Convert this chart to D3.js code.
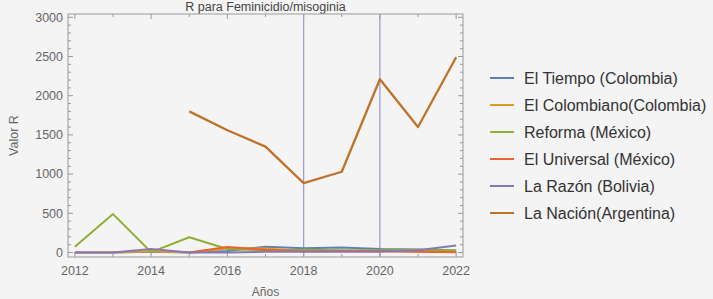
<!DOCTYPE html>
<html>
<head>
<meta charset="utf-8">
<script src="https://cdn.jsdelivr.net/npm/d3@7"></script>
<style>
  html, body { margin: 0; padding: 0; background: #f4f4f4; }
  #app { width: 713px; height: 299px; }
  text { font-family: "Liberation Sans", Arial, sans-serif; }
</style>
</head>
<body>
<div id="app"></div>
<script>
// chart data
const years = [2012, 2013, 2014, 2015, 2016, 2017, 2018, 2019, 2020, 2021, 2022];
const seriesNames = ['El Tiempo (Colombia)', 'El Colombiano(Colombia)', 'Reforma (México)',
	'El Universal (México)', 'La Razón (Bolivia)', 'La Nación(Argentina)'];
const elTiempo = [0, 0, 10, 0, 20, 75, 55, 65, 45, 40, 25];
const elColombiano = [0, 0, 15, 0, 50, 50, 20, 15, 15, 10, 15];
const reforma = [75, 490, 5, 195, 45, 30, 35, 30, 30, 35, 25];
const elUniversal = [null, null, null, 0, 70, 35, 15, 20, 20, 10, 5];
const laRazon = [0, 0, 45, 0, 0, 10, 10, 10, 10, 30, 90];
const laNacion = [null, null, null, 1800, 1560, 1350, 885, 1030, 2210, 1600, 2490];
const markerYears = [2018, 2020];
const xTicks = [2012, 2014, 2016, 2018, 2020, 2022];
const yTicks = [0, 500, 1000, 1500, 2000, 2500, 3000];
const colors = ['#5E81B5', '#E19C24', '#8FB032', '#EB6235', '#8778B3', '#BF7228'];

const allSeries = [elTiempo, elColombiano, reforma, elUniversal, laRazon, laNacion];

let svg = d3.select('#app').append('svg')
	.attr('width', 713)
	.attr('height', 299);

let margin = { top: 14, left: 68 },
	width = 395,
	height = 243;

let x = d3.scaleLinear()
	.domain([2011.82, 2022.18])
	.range([margin.left, margin.left + width]);

let y = d3.scaleLinear()
	.domain([-57, 3042])
	.range([margin.top + height, margin.top]);

// title, squeezed against the top edge as in the original
svg.append('text')
	.attr('x', x(2017))
	.attr('y', 10.5)
	.attr('text-anchor', 'middle')
	.attr('font-size', 12.5)
	.attr('fill', '#444')
	.text('R para Feminicidio/misoginia');

// frame
svg.append('rect')
	.attr('x', margin.left)
	.attr('y', margin.top)
	.attr('width', width)
	.attr('height', height)
	.attr('fill', 'none')
	.attr('stroke', '#999')
	.attr('stroke-width', 1);

// inward ticks on all four sides
let ticks = svg.append('g').attr('stroke', '#999').attr('stroke-width', 1);
d3.range(2012, 2022.01, 1).forEach(function(yr) {
	let major = xTicks.includes(yr), len = major ? 5 : 3;
	ticks.append('line').attr('x1', x(yr)).attr('x2', x(yr))
		.attr('y1', margin.top + height).attr('y2', margin.top + height - len);
	ticks.append('line').attr('x1', x(yr)).attr('x2', x(yr))
		.attr('y1', margin.top).attr('y2', margin.top + len);
});
d3.range(0, 3001, 100).forEach(function(v) {
	let major = v % 500 === 0, len = major ? 5 : 3;
	ticks.append('line').attr('y1', y(v)).attr('y2', y(v))
		.attr('x1', margin.left).attr('x2', margin.left + len);
	ticks.append('line').attr('y1', y(v)).attr('y2', y(v))
		.attr('x1', margin.left + width).attr('x2', margin.left + width - len);
});

// tick labels
svg.append('g').selectAll('text')
	.data(xTicks)
	.enter().append('text')
	.attr('x', d => x(d))
	.attr('y', margin.top + height + 18)
	.attr('text-anchor', 'middle')
	.attr('font-size', 12.5)
	.attr('fill', '#666')
	.text(d => d);

svg.append('g').selectAll('text')
	.data(yTicks)
	.enter().append('text')
	.attr('x', margin.left - 5)
	.attr('y', d => y(d))
	.attr('dy', '0.35em')
	.attr('text-anchor', 'end')
	.attr('font-size', 12.5)
	.attr('fill', '#666')
	.text(d => d);

// axis titles
svg.append('text')
	.attr('transform', `translate(18, ${ margin.top + height / 2 }) rotate(-90)`)
	.attr('text-anchor', 'middle')
	.attr('font-size', 12.5)
	.attr('fill', '#666')
	.text('Valor R');

svg.append('text')
	.attr('x', margin.left + width / 2)
	.attr('y', 296)
	.attr('text-anchor', 'middle')
	.attr('font-size', 12)
	.attr('fill', '#666')
	.text('Años');

// vertical marker lines
svg.append('g').selectAll('line')
	.data(markerYears)
	.enter().append('line')
	.attr('x1', d => x(d)).attr('x2', d => x(d))
	.attr('y1', margin.top).attr('y2', margin.top + height)
	.attr('stroke', '#9d9dd2')
	.attr('stroke-width', 1.3);

// series lines
let line = d3.line()
	.defined(d => d[1] !== null)
	.x(d => x(d[0]))
	.y(d => y(d[1]));

svg.append('g').selectAll('path')
	.data(allSeries)
	.enter().append('path')
	.attr('d', s => line(years.map((yr, i) => [yr, s[i]])))
	.attr('fill', 'none')
	.attr('stroke', (s, i) => colors[i])
	.attr('stroke-width', (s, i) => i === 5 ? 2.3 : 2)
	.attr('stroke-linejoin', 'round');

// legend
let legend = svg.append('g').selectAll('g')
	.data(seriesNames)
	.enter().append('g')
	.attr('transform', (d, i) => `translate(490, ${ 78 + i * 27 })`);

legend.append('line')
	.attr('x1', 0).attr('x2', 24)
	.attr('stroke', (d, i) => colors[i])
	.attr('stroke-width', 2);

legend.append('text')
	.attr('x', 34)
	.attr('dy', '0.35em')
	.attr('font-size', 16)
	.attr('fill', '#333')
	.text(d => d);
</script>
</body>
</html>
